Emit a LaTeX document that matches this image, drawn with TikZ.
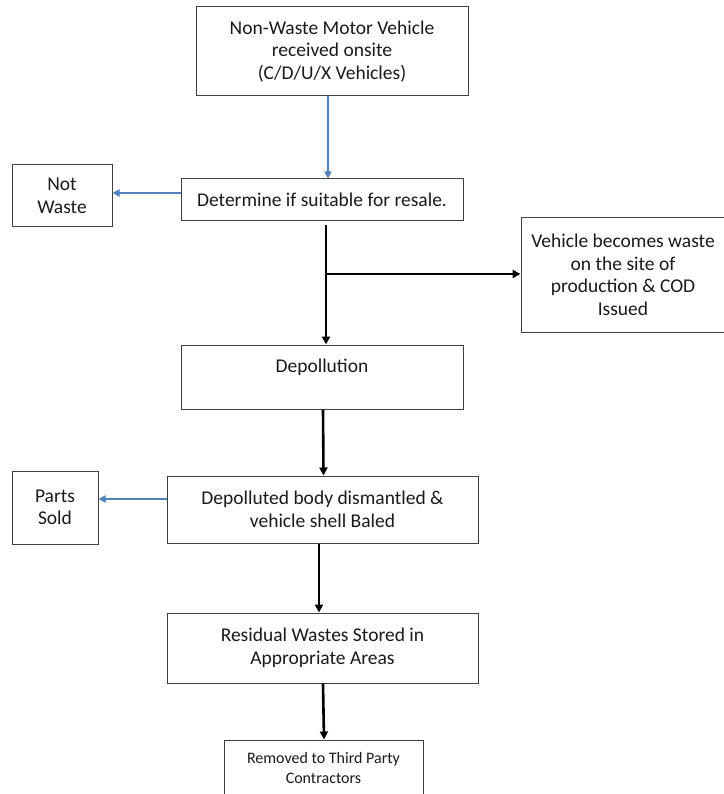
\documentclass[tikz,border=0pt]{standalone}
\usepackage{fontspec}
\setmainfont{Carlito}
\usetikzlibrary{arrows.meta,calc}
\definecolor{boxline}{HTML}{404040}
\definecolor{arrowblue}{HTML}{4F81BD}
\definecolor{txt}{HTML}{1A1A1A}
\begin{document}
\begin{tikzpicture}[x=1pt,y=-1pt,
  box/.style={draw=boxline,line width=1pt,rectangle,inner sep=0pt,align=center,text=txt,
    font=\fontsize{19.5}{22.5}\selectfont},
  smallbox/.style={box,font=\fontsize{16}{20}\selectfont},
  bluearrow/.style={draw=arrowblue,line width=2.4pt,-{Triangle[length=7pt,width=7pt]}},
  blackarrow/.style={draw=black,line width=2.6pt,-{Triangle[length=8pt,width=8pt]}}]
\useasboundingbox[fill=white] (0,0) rectangle (723,794);

\node[box,minimum width=272pt,minimum height=89pt] (top) at (332,51.5)
  {Non-Waste Motor Vehicle\\received onsite\\(C/D/U/X Vehicles)};
\node[box,minimum width=282pt,minimum height=42pt] (det) at (322,200)
  {Determine if suitable for resale.};
\node[box,minimum width=100pt,minimum height=62pt] (nw) at (62,196)
  {Not\\Waste};
\node[box,minimum width=204pt,minimum height=114pt] (veh) at (623,275)
  {Vehicle becomes waste\\on the site of\\production \& COD\\Issued};
\node[box,minimum width=282pt,minimum height=64pt] (dep) at (322,377)
  {Depollution\\\mbox{}};
\node[box,minimum width=311pt,minimum height=67pt] (dis) at (322.5,509.5)
  {Depolluted body dismantled \&\\vehicle shell Baled};
\node[box,minimum width=86pt,minimum height=73pt] (parts) at (55,507.5)
  {Parts\\Sold};
\node[box,minimum width=311pt,minimum height=70pt] (res) at (322.5,648)
  {Residual Wastes Stored in\\Appropriate Areas};
\node[smallbox,minimum width=199pt,minimum height=56pt] (rem) at (323.5,768)
  {Removed to Third Party\\Contractors};

\draw[bluearrow] ([xshift=-4pt]top.south) -- ([xshift=6pt]det.north);
\draw[bluearrow] ([yshift=7pt]det.west) -- ([yshift=7pt]det.west -| nw.east);
\draw[bluearrow] ([yshift=10.5pt]dis.west) -- ([yshift=10.5pt]dis.west -| parts.east);

\coordinate (br) at ([xshift=4pt]det.south |- 0,274);
\draw[blackarrow] ([xshift=4pt,yshift=-4pt]det.south) -- ([xshift=4pt]dep.north);
\draw[blackarrow] (br) -- (br -| veh.west);
\draw[blackarrow] ([xshift=1pt]dep.south) -- ([xshift=1pt]dis.north);
\draw[blackarrow] ([xshift=-3.5pt]dis.south) -- ([xshift=-3.5pt]res.north);
\draw[blackarrow] ([xshift=0.5pt]res.south) -- ([xshift=0.5pt]rem.north);
\end{tikzpicture}
\end{document}
